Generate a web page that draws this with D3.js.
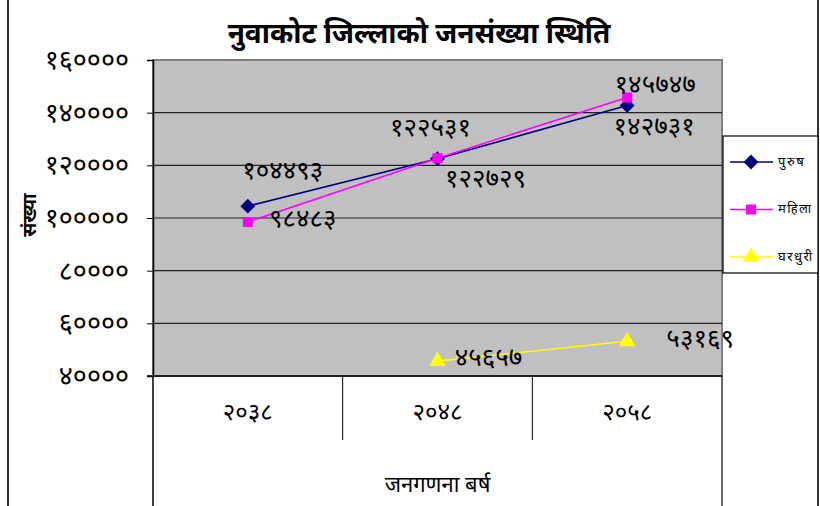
<!DOCTYPE html>
<html>
<head>
<meta charset="utf-8">
<script src="https://cdn.jsdelivr.net/npm/d3@7"></script>
<style>
  body { margin: 0; background: #fff; }
  text { font-family: "Noto Sans Devanagari", "Noto Sans", "DejaVu Sans", sans-serif; fill: #000; }
</style>
</head>
<body>
<svg id="chart" width="820" height="506"></svg>
<script>
// census years and population counts
const years = ["2038", "2048", "2058"]
const purush = [104493, 122531, 142731]
const mahila = [98483, 122729, 145747]
const gharduri = [null, 45657, 53169]
const yTicks = [40000, 60000, 80000, 100000, 120000, 140000, 160000]
const seriesNames = ["पुरुष", "महिला", "घरधुरी"]

const title = "नुवाकोट जिल्लाको जनसंख्या स्थिति"
const yTitle = "संख्या"
const xTitle = "जनगणना बर्ष"

// label offsets from each point, [dx, dy]
const labelOffsets = [
  [[35, -33], [-7, -29], [27, 24]],
  [[55, -1], [48, 23], [28, -11]],
  [[0, 0], [51, -1], [73, 0]]
]

const devDigits = "०१२३४५६७८९"
const toDev = (v) => String(v).replace(/[0-9]/g, (c) => devDigits[+c])

const margin = {top: 60, right: 98, bottom: 130, left: 153}
const width = 820, height = 506
const plotW = width - margin.left - margin.right
const plotH = height - margin.top - margin.bottom

const svg = d3.select("#chart")

const x = d3.scaleBand().domain(years).range([margin.left, margin.left + plotW])
const y = d3.scaleLinear().domain([40000, 160000]).range([margin.top + plotH, margin.top])
const cx = (i) => x(years[i]) + x.bandwidth() / 2

// diamond drawn as a rotated square, like the spreadsheet marker
const diamond = {
  draw (ctx, size) {
    const r = Math.sqrt(size / 2)
    ctx.moveTo(0, -r); ctx.lineTo(r, 0); ctx.lineTo(0, r); ctx.lineTo(-r, 0); ctx.closePath()
  }
}

// outer frame lines
svg.append("line").attr("x1", 8).attr("x2", 8).attr("y1", 0).attr("y2", height)
  .attr("stroke", "#333").attr("stroke-width", 2)
svg.append("line").attr("x1", 818).attr("x2", 818).attr("y1", 0).attr("y2", height)
  .attr("stroke", "#333").attr("stroke-width", 2)

// plot background
svg.append("rect")
  .attr("x", margin.left).attr("y", margin.top)
  .attr("width", plotW).attr("height", plotH)
  .attr("fill", "#c0c0c0")
  .attr("stroke", "#808080").attr("stroke-width", 2)

// gridlines
svg.append("g").selectAll("line")
  .data(yTicks.slice(1, -1))
  .join("line")
  .attr("x1", margin.left).attr("x2", margin.left + plotW)
  .attr("y1", (d) => y(d)).attr("y2", (d) => y(d))
  .attr("stroke", "#222").attr("stroke-width", 1.2)

// y axis
const yAxis = svg.append("g")
  .attr("transform", `translate(${margin.left},0)`)
  .call(d3.axisLeft(y).tickValues(yTicks).tickSize(6).tickPadding(18).tickFormat(toDev))
yAxis.select(".domain").attr("stroke", "#000").attr("stroke-width", 1.5)
yAxis.selectAll(".tick line").attr("stroke", "#000")
yAxis.selectAll("text").style("font-size", "27px").attr("fill", "#000")

// x axis baseline and category dividers
const baseY = margin.top + plotH
svg.append("line")
  .attr("x1", margin.left - 6).attr("x2", margin.left + plotW)
  .attr("y1", baseY).attr("y2", baseY)
  .attr("stroke", "#000").attr("stroke-width", 1.5)
svg.append("g").selectAll("line")
  .data(years.slice(1))
  .join("line")
  .attr("x1", (d) => x(d)).attr("x2", (d) => x(d))
  .attr("y1", baseY).attr("y2", baseY + 64)
  .attr("stroke", "#000")
svg.append("line")
  .attr("x1", margin.left).attr("x2", margin.left)
  .attr("y1", baseY).attr("y2", height)
  .attr("stroke", "#000").attr("stroke-width", 1.5)
svg.append("line")
  .attr("x1", margin.left + plotW).attr("x2", margin.left + plotW)
  .attr("y1", baseY).attr("y2", height)
  .attr("stroke", "#333").attr("stroke-width", 1.5)

svg.append("g").selectAll("text")
  .data(years)
  .join("text")
  .attr("x", (d) => x(d) + x.bandwidth() / 2)
  .attr("y", baseY + 44)
  .attr("text-anchor", "middle")
  .style("font-size", "24px")
  .text(toDev)

// titles
svg.append("text")
  .attr("x", 419).attr("y", 43)
  .attr("text-anchor", "middle")
  .style("font-size", "28px").style("font-weight", "bold")
  .text(title)
svg.append("text")
  .attr("x", margin.left + plotW / 2).attr("y", 492)
  .attr("text-anchor", "middle")
  .style("font-size", "22px")
  .text(xTitle)
svg.append("text")
  .attr("transform", "translate(36,215) rotate(-90)")
  .attr("text-anchor", "middle")
  .style("font-size", "19px").style("font-weight", "bold")
  .text(yTitle)

// series
const series = [
  {name: seriesNames[0], values: purush, color: "#000080", shape: diamond, size: 110},
  {name: seriesNames[1], values: mahila, color: "#ff00ff", shape: d3.symbolSquare, size: 100},
  {name: seriesNames[2], values: gharduri, color: "#ffff00", shape: d3.symbolTriangle, size: 120}
]

const line = d3.line()
  .defined((d) => d != null)
  .x((d, i) => cx(i))
  .y((d) => y(d))

series.forEach((s, si) => {
  svg.append("path")
    .attr("d", line(s.values))
    .attr("fill", "none")
    .attr("stroke", s.color)
    .attr("stroke-width", 1.6)

  const pts = s.values.map((v, i) => ({v, i})).filter((d) => d.v != null)

  svg.append("g").selectAll("path")
    .data(pts)
    .join("path")
    .attr("transform", (d) => `translate(${cx(d.i)},${y(d.v)})`)
    .attr("d", d3.symbol().type(s.shape).size(s.size))
    .attr("fill", s.color)

  svg.append("g").selectAll("text")
    .data(pts)
    .join("text")
    .attr("x", (d) => cx(d.i) + labelOffsets[si][d.i][0])
    .attr("y", (d) => y(d.v) + labelOffsets[si][d.i][1])
    .attr("text-anchor", "middle")
    .attr("dominant-baseline", "central")
    .style("font-size", "26px")
    .text((d) => toDev(d.v))
})

// legend
const legend = svg.append("g").attr("transform", "translate(723,136)")
legend.append("rect")
  .attr("width", 95).attr("height", 137)
  .attr("fill", "#fff").attr("stroke", "#000").attr("stroke-width", 1.2)
series.forEach((s, i) => {
  const ly = 26 + i * 47.5
  legend.append("line")
    .attr("x1", 7).attr("x2", 50).attr("y1", ly).attr("y2", ly)
    .attr("stroke", s.color).attr("stroke-width", 1.6)
  legend.append("path")
    .attr("transform", `translate(28,${ly})`)
    .attr("d", d3.symbol().type(s.shape).size(s.size))
    .attr("fill", s.color)
  legend.append("text")
    .attr("x", 55).attr("y", ly)
    .attr("dominant-baseline", "central")
    .style("font-size", "13px")
    .style("letter-spacing", "1.5px")
    .text(s.name)
})
</script>
</body>
</html>
